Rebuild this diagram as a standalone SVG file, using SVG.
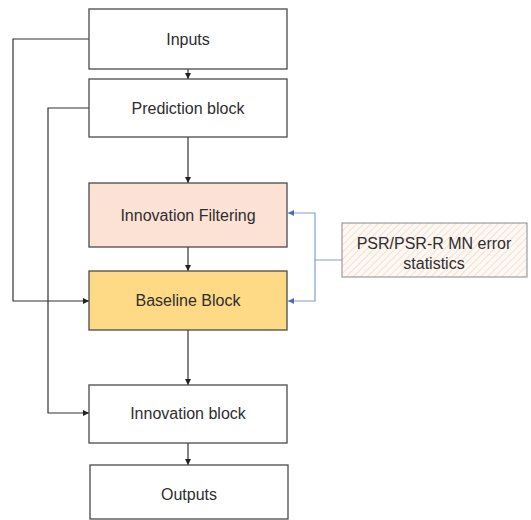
<svg xmlns="http://www.w3.org/2000/svg" width="531" height="520" viewBox="0 0 531 520">
<style>
.box{stroke:#4a4a4a;stroke-width:1.3}
.t{font-family:"Liberation Sans",Arial,sans-serif;font-size:16px;fill:#2e2e2e;text-anchor:middle;dominant-baseline:central}
.c{fill:none;stroke:#333;stroke-width:1.2}
.b{fill:none;stroke:#7f9fd0;stroke-width:1.2}
</style>
<defs>
<marker id="ah" viewBox="0 0 10 10" refX="10" refY="5" markerWidth="5" markerHeight="5" orient="auto"><path d="M0,0 L10,5 L0,10 z" fill="#222"/></marker>
<marker id="ab" viewBox="0 0 10 10" refX="10" refY="5" markerWidth="5" markerHeight="5" orient="auto"><path d="M0,0 L10,5 L0,10 z" fill="#4a6fb0"/></marker>
<pattern id="hatch" patternUnits="userSpaceOnUse" width="5" height="5" patternTransform="rotate(45)">
<rect width="5" height="5" fill="#fdf8f4"/>
<line x1="0" y1="0" x2="0" y2="5" stroke="#f3d9c8" stroke-width="1.5"/>
</pattern>
</defs>
<rect width="531" height="520" fill="#fff"/>
<g id="connectors">
<path class="c" d="M188,69 V79" marker-end="url(#ah)"/>
<path class="c" d="M188,137 V183" marker-end="url(#ah)"/>
<path class="c" d="M188,247 V271" marker-end="url(#ah)"/>
<path class="c" d="M188,330 V385" marker-end="url(#ah)"/>
<path class="c" d="M188,443 V465" marker-end="url(#ah)"/>
<path class="c" d="M89,39 H13 V301 H89" marker-end="url(#ah)"/>
<path class="c" d="M89,108 H48 V413 H89" marker-end="url(#ah)"/>
<path class="b" d="M342,260 H315 V213 H288" marker-end="url(#ab)"/>
<path class="b" d="M315,260 V301 H288" marker-end="url(#ab)"/>
</g>
<g id="inputs"><rect class="box" x="89" y="9" width="198" height="60" fill="#fff"/><text class="t" x="188" y="39">Inputs</text></g>
<g id="prediction"><rect class="box" x="89" y="79" width="198" height="58" fill="#fff"/><text class="t" x="188" y="108">Prediction block</text></g>
<g id="filtering"><rect class="box" x="89" y="183" width="198" height="64" fill="#fbe2d5"/><text class="t" x="188" y="215">Innovation Filtering</text></g>
<g id="baseline"><rect class="box" x="89" y="271" width="198" height="59" fill="#ffda86"/><text class="t" x="188" y="300">Baseline Block</text></g>
<g id="innovation"><rect class="box" x="89" y="385" width="198" height="58" fill="#fff"/><text class="t" x="188" y="413">Innovation block</text></g>
<g id="outputs"><rect class="box" x="90" y="465" width="198" height="54" fill="#fff"/><text class="t" x="189" y="494">Outputs</text></g>
<g id="psr"><rect x="342" y="223" width="185" height="54" fill="url(#hatch)" stroke="#8a8a8a" stroke-width="1"/><text class="t" x="434" y="243">PSR/PSR-R MN error</text><text class="t" x="434" y="263">statistics</text></g>
</svg>
